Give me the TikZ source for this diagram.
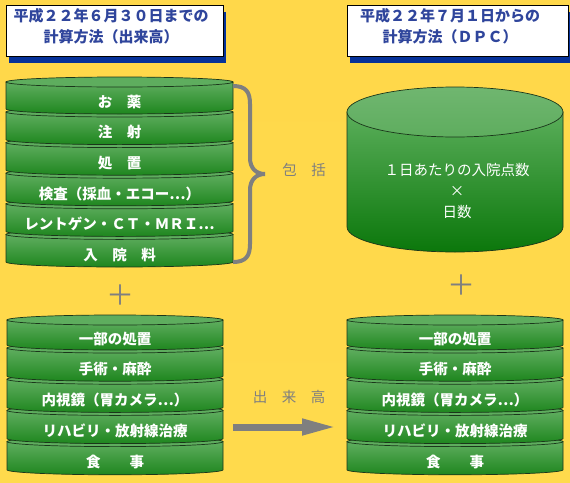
\documentclass[tikz,border=0pt]{standalone}
\usepackage{fontspec}
\newfontfamily\jp{Noto Sans CJK JP}
\usetikzlibrary{arrows.meta,shadows}
\definecolor{bgtop}{HTML}{FFD84A}
\definecolor{bgmid}{HTML}{FFEE9C}
\definecolor{bgbot}{HTML}{FFDA4C}
\definecolor{titleblue}{HTML}{2F459C}
\definecolor{shadowblue}{HTML}{06329A}
\definecolor{seglight}{HTML}{60AE60}
\definecolor{segdark}{HTML}{1E861E}
\definecolor{segtop}{HTML}{5EAD5E}
\definecolor{segline}{HTML}{1A361A}
\definecolor{cyllight}{HTML}{5AAE5A}
\definecolor{cyldark}{HTML}{0B770B}
\definecolor{markgray}{HTML}{7F7F7F}
\tikzset{
  titlebox/.style={draw=black,line width=0.8pt,fill=white,inner sep=0pt,minimum height=51pt,
    drop shadow={shadow xshift=3pt,shadow yshift=-6.5pt,fill=shadowblue,opacity=1}},
  titletext/.style={font=\jp\bfseries\fontsize{15}{21}\selectfont,text=titleblue,align=center,inner sep=0pt},
  segtext/.style={font=\jp\bfseries\fontsize{14.5}{21}\selectfont,text=white,align=center,inner sep=0pt},
  graytext/.style={font=\jp\fontsize{14.5}{17}\selectfont,text=markgray,inner sep=0pt},
  plustext/.style={font=\jp\fontsize{28}{28}\selectfont,text=markgray,inner sep=0pt}
}
% one disc of a stack: xl, xr, top, bottom, name, label
\newcommand{\diskseg}[6]{%
  \pgfmathsetmacro{\segrx}{(#2-#1)/2}%
  \pgfmathsetmacro{\segcx}{(#1+#2)/2}%
  \pgfmathsetmacro{\segty}{(#3+#4)/2+6.5}%
  \shade[top color=seglight,bottom color=segdark,draw=segline,line width=0.7pt]
    (#1,-#3) -- (#1,-#4) arc[start angle=180,end angle=360,x radius=\segrx,y radius=5] -- (#2,-#3) -- cycle;
  \draw[segline,line width=0.7pt,fill=segtop] (\segcx,-#3) ellipse[x radius=\segrx,y radius=5];
  \node[segtext] (#5) at (\segcx,-\segty) {#6};
}
\begin{document}
\begin{tikzpicture}[x=1pt,y=1pt]
  \useasboundingbox (0,0) rectangle (570,-482);
  \shade[top color=bgtop,middle color=bgmid,bottom color=bgbot] (0,0) rectangle (570,-482);

  % titles
  \node[titlebox,minimum width=217pt] (oldbox) at (114.5,-30.5) {};
  \node[titletext] (oldtitle) at (111,-26) {平成２２年６月３０日までの\\計算方法（出来高）};
  \node[titlebox,minimum width=221pt] (newbox) at (457.5,-30.5) {};
  \node[titletext] (newtitle) at (450,-26) {平成２２年７月１日からの\\計算方法（ＤＰＣ）};

  % left upper stack, drawn from the bottom disc up
  \foreach \t/\b/\n/\lbl in {234.4/262/old6/{入　院　料},203.8/231.4/old5/{レントゲン・ＣＴ・ＭＲＩ⋯},
      173.2/200.8/old4/{検査（採血・エコー⋯）},142.6/170.2/old3/{処　置},112/139.6/old2/{注　射},82/109/old1/{お　薬}}
    {\diskseg{6}{233}{\t}{\b}{\n}{\lbl}}

  % brace
  \draw[markgray,line width=4pt] (233,-86) .. controls (246,-86) and (250,-92) .. (250,-104) -- (250,-158)
    .. controls (250,-168) and (256,-174) .. (265,-174) .. controls (256,-174) and (250,-180) .. (250,-190)
    -- (250,-244) .. controls (250,-256) and (246,-262) .. (233,-262);
  \node[graytext] (incl) at (304,-170) {包　括};

  % right cylinder
  \shade[top color=cyllight,bottom color=cyldark,draw=segline,line width=0.7pt]
    (347,-112) -- (347,-227) arc[start angle=180,end angle=360,x radius=108,y radius=25] -- (563,-112) -- cycle;
  \shade[top color=seglight!90!white,bottom color=segtop,draw=segline,line width=0.7pt]
    (455,-112) ellipse[x radius=108,y radius=25];
  \node[segtext,font=\jp\fontsize{14.5}{21}\selectfont] (daily) at (457,-191) {１日あたりの入院点数\\×\\日数};

  % plus signs
  \node[plustext] (plusL) at (120,-295) {＋};
  \node[plustext] (plusR) at (461,-285) {＋};

  % lower stacks
  \foreach \t/\b/\n/\lbl in {441.6/469.8/5/{食　　事},410.4/438.6/4/{リハビリ・放射線治療},
      379.2/407.4/3/{内視鏡（胃カメラ⋯）},348/376.2/2/{手術・麻酔},320/345/1/{一部の処置}}
    {\diskseg{7}{223}{\t}{\b}{ex\n}{\lbl}
     \diskseg{347}{563}{\t}{\b}{dpc\n}{\lbl}}

  % arrow
  \coordinate (arrS) at (233,-427);
  \coordinate (arrE) at (337,-427);
  \draw[markgray,line width=7pt,-{Triangle[length=35pt,width=15pt]}] (arrS) -- (arrE);
  \node[graytext] (dekidaka) at (289,-397) {出　来　高};
\end{tikzpicture}
\end{document}
